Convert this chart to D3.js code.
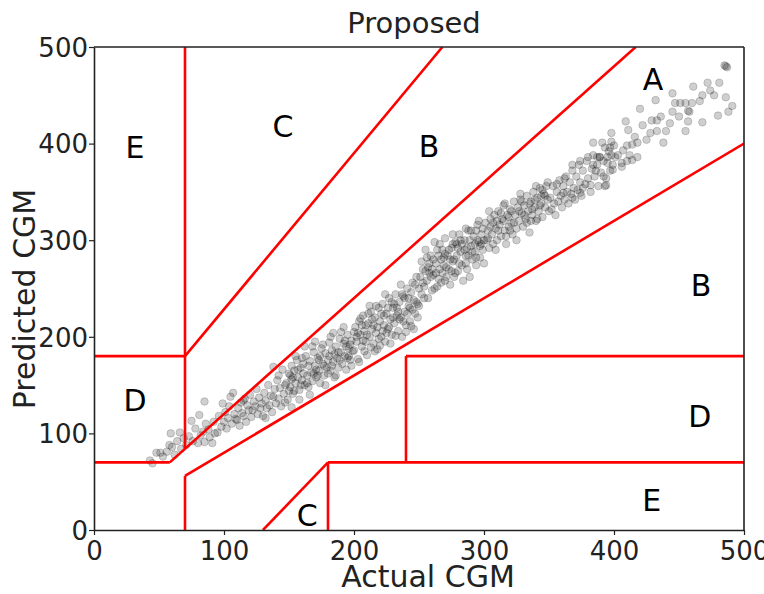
<!DOCTYPE html>
<html>
<head>
<meta charset="utf-8">
<script src="https://cdn.jsdelivr.net/npm/d3@7"></script>
<style>
  body { margin: 0; background: #fff; }
  text { font-family: 'DejaVu Sans', sans-serif; }
</style>
</head>
<body>
<div id="chart"></div>
<script>

const chartTitle = 'Proposed';
const xAxisTitle = 'Actual CGM';
const yAxisTitle = 'Predicted CGM';

const xTicks = [ 0, 100, 200, 300, 400, 500 ];
const yTicks = [ 0, 100, 200, 300, 400, 500 ];

// Clarke error grid zone boundaries, [actual, predicted]
const zoneLines = [
  [ [ 0, 70 ], [ 58.3, 70 ] ],
  [ [ 58.3, 70 ], [ 416.7, 500 ] ],
  [ [ 70, 84 ], [ 70, 500 ] ],
  [ [ 0, 180 ], [ 70, 180 ] ],
  [ [ 70, 180 ], [ 268, 500 ] ],
  [ [ 70, 0 ], [ 70, 56 ] ],
  [ [ 70, 56 ], [ 500, 400 ] ],
  [ [ 180, 0 ], [ 180, 70 ] ],
  [ [ 180, 70 ], [ 500, 70 ] ],
  [ [ 240, 70 ], [ 240, 180 ] ],
  [ [ 240, 180 ], [ 500, 180 ] ],
  [ [ 130, 0 ], [ 180, 70 ] ]
];

const zoneNames = [ 'E', 'C', 'B', 'A', 'B', 'D', 'D', 'E', 'C' ];
const zoneNameSpots = [ [ 31.5, 396.5 ], [ 145.4, 418 ], [ 257.7, 397.5 ], [ 430, 467 ], [ 467, 253.6 ],
  [ 31.5, 134.6 ], [ 466, 118 ], [ 429, 31 ], [ 164, 15.5 ] ];

// [actual, predicted]
const readings = [
  [43,72],[45,69],[48,80],[51,80],[53,76],[56,81],[58,88],[59,100],[60,86],[62,78],[64,92],[66,101],[67,84],[69,95],[71,88],[73,97],[75,113],[76,92],[78,105],[80,90],[81,119],[82,98],[84,102],[85,91],[85,133],[86,110],[88,104],[89,96],[91,90],[92,112],[93,100],[95,101],[96,118],[98,107],[99,131],
  [100,112],[101,122],[102,105],[103,116],[104,128],[105,138],[106,110],[107,142],[108,120],[109,115],[110,114],[111,126],[112,108],[113,132],[114,121],[115,118],[116,136],[117,112],[118,129],[119,124],[120,140],[121,117],[122,124],[123,133],[124,128],[125,146],[126,120],[127,137],[128,126],[129,131],[130,118],[131,142],[132,134],[133,126],[134,150],[135,129],[136,139],[137,122],[138,138],[139,146],[140,131],[141,155],[142,136],[143,147],[144,128],[145,166],[146,141],[147,150],[148,152],[149,135],[150,144],[151,160],[152,127],[153,158],[138,169],[115,134],[132,116],[147,132],[142,160],
  [150,162],[151,148],[152,170],[153,141],[154,165],[155,152],[156,176],[157,158],[158,145],[159,168],[160,155],[161,172],[162,150],[163,180],[164,160],[165,148],[166,175],[167,163],[168,154],[169,184],[170,170],[171,158],[172,178],[173,165],[174,152],[175,188],[176,172],[177,160],[178,183],[179,168],[180,176],[181,194],[182,165],[183,186],[184,174],[185,158],[186,190],[187,178],[188,168],[189,198],[190,184],[191,172],[192,193],[193,180],[194,166],[195,202],[196,188],[197,176],[198,196],[199,185],[200,205],[155,180],[158,135],[162,190],[166,140],[170,195],[174,180],[178,150],[182,200],[186,160],[190,205],[194,190],[198,170],[152,156],[157,166],[161,162],[165,170],[169,162],[173,176],[177,170],[181,180],[185,182],[189,176],[193,196],[197,192],[160,178],[168,190],[176,192],[184,204],[192,210],[164,152],[172,160],[180,162],[188,184],[196,180],[154,144],[159,150],[171,166],[183,170],[195,178],
  [200,186],[201,210],[202,195],[203,177],[204,216],[205,202],[206,190],[207,222],[208,206],[209,195],[210,181],[211,214],[212,200],[213,226],[214,208],[215,193],[216,220],[217,204],[218,187],[219,230],[220,216],[221,200],[222,234],[223,212],[224,195],[225,224],[226,208],[227,240],[228,218],[229,202],[230,230],[231,214],[232,244],[233,222],[234,206],[235,236],[236,220],[237,200],[238,242],[239,226],[240,212],[241,250],[242,232],[243,216],[244,246],[245,228],[246,208],[247,254],[248,236],[249,220],[250,250],[203,204],[207,196],[211,224],[215,212],[219,198],[223,222],[227,210],[231,234],[235,218],[239,240],[243,230],[247,224],[205,219],[209,212],[213,189],[217,232],[221,224],[225,204],[229,236],[233,230],[237,244],[241,224],[245,256],[249,234],[202,200],[206,212],[210,202],[214,218],[218,210],[222,206],[226,230],[230,220],[234,226],[238,216],[242,240],[246,238],[250,232],[212,232],[224,244],[236,254],[248,262],[204,174],[216,185],[228,193],[240,205],[208,185],[220,191],[232,201],[244,211],
  [251,262],[252,244],[253,270],[254,252],[255,290],[256,258],[257,240],[258,276],[259,262],[260,248],[261,280],[262,298],[263,266],[264,252],[265,284],[266,270],[267,256],[268,290],[269,274],[270,302],[271,262],[272,284],[273,270],[274,254],[275,292],[276,278],[277,262],[278,298],[279,284],[280,268],[281,306],[282,288],[283,274],[284,258],[285,300],[286,284],[287,270],[288,310],[289,262],[290,294],[291,280],[292,304],[293,288],[294,274],[295,316],[296,298],[297,282],[298,306],[299,290],[300,276],[253,256],[257,272],[261,264],[265,260],[269,282],[273,290],[277,280],[281,276],[285,290],[289,300],[293,296],[297,294],[255,268],[259,284],[263,276],[267,280],[271,272],[275,268],[279,296],[283,296],[287,292],[291,288],[295,300],[299,312],[252,278],[258,266],[264,290],[270,286],[276,296],[282,300],[288,284],[294,310],[300,300],[254,240],[262,250],[270,258],[278,266],[286,276],[294,282],[256,282],[266,296],[276,306],[286,312],[296,320],[260,270],[268,266],[274,280],[280,292],[290,310],[298,296],
  [301,318],[302,300],[303,310],[304,292],[305,322],[306,306],[307,296],[308,326],[309,312],[310,300],[311,330],[312,316],[313,304],[314,322],[315,336],[316,310],[317,296],[318,326],[319,314],[320,332],[321,318],[322,306],[323,340],[324,326],[325,312],[326,334],[327,320],[328,342],[329,328],[330,314],[331,336],[332,322],[333,346],[334,330],[335,308],[336,340],[337,326],[338,350],[339,334],[340,320],[341,344],[342,330],[343,354],[344,338],[345,324],[346,348],[347,334],[348,356],[349,342],[350,330],[303,302],[307,318],[311,310],[315,320],[319,324],[323,318],[327,330],[331,326],[335,338],[339,342],[343,336],[347,346],[305,314],[313,328],[321,330],[329,340],[337,332],[345,352],[309,290],[317,304],[325,300],[333,318],[341,322],[349,360],[304,330],[316,338],[328,348],[340,356],[310,320],[320,310],[336,320],[344,346],
  [351,344],[352,332],[353,356],[354,338],[355,326],[356,350],[357,340],[358,362],[359,346],[360,334],[361,356],[362,342],[363,366],[364,350],[365,338],[366,360],[367,348],[368,372],[369,354],[370,342],[371,366],[372,352],[373,378],[374,360],[375,346],[376,372],[378,358],[379,382],[380,364],[382,350],[383,374],[384,388],[385,366],[387,378],[388,356],[389,386],[390,370],[392,382],[393,396],[394,364],[395,380],[396,392],[397,372],[398,388],[399,378],[400,398],[356,358],[362,364],[368,344],[374,382],[380,386],[386,372],[392,366],[398,402],[384,378],[376,354],
  [486,480],[487,479],[485,481],[481,463],[472,463],[461,459],[445,452],[432,445],[420,436],[409,423],[398,411],[468,450],[477,450],[486,448],[491,439],[488,433],[480,429],[468,422],[457,434],[458,433],[451,442],[455,442],[460,442],[447,442],[445,433],[443,421],[455,413],[457,423],[440,413],[433,413],[428,411],[433,424],[429,424],[438,401],[422,419],[411,414],[416,407],[418,401],[414,399],[410,398],[384,401],[391,401],[389,386],[395,386],[401,386],[407,393],[412,388],[418,386],[410,382],[406,380],[368,378],[387,386],[393,356],[394,357],[361,349],[374,349],[382,357],[399,373],[406,376],[414,383],[403,388],[397,396],[425,404],[436,428],[450,428],[474,455],[466,444]
];

const figure_width = 764;
const figure_height = 594;

const plot_margin = { top: 47, right: 20, bottom: 64, left: 94 },
    plot_width = figure_width - plot_margin.left - plot_margin.right,
    plot_height = figure_height - plot_margin.top - plot_margin.bottom;

const svg = d3.select( 'div#chart' )
  .append( 'svg' )
    .attr( 'width', figure_width )
    .attr( 'height', figure_height )
    .append( 'g' )
      .attr( 'transform', 'translate( ' + plot_margin.left + ', ' + plot_margin.top + ' )' );

const x = d3.scaleLinear()
  .domain( [ 0, 500 ] )
  .range( [ 0, plot_width ] );

const y = d3.scaleLinear()
  .domain( [ 0, 500 ] )
  .range( [ plot_height, 0 ] );

svg.append( 'clipPath' )
    .attr( 'id', 'plot-clip' )
  .append( 'rect' )
    .attr( 'width', plot_width )
    .attr( 'height', plot_height );

// Scatter of readings
svg.append( 'g' )
    .attr( 'clip-path', 'url(#plot-clip)' )
  .selectAll( 'circle' )
  .data( readings )
  .enter()
  .append( 'circle' )
    .attr( 'cx', function( d ) { return x( d[0] ); } )
    .attr( 'cy', function( d ) { return y( d[1] ); } )
    .attr( 'r', 3.8 )
    .style( 'fill', '#000' )
    .style( 'fill-opacity', 0.19 )
    .style( 'stroke', '#000' )
    .style( 'stroke-opacity', 0.17 )
    .style( 'stroke-width', 1 );

// Zone boundaries
svg.append( 'g' )
    .attr( 'clip-path', 'url(#plot-clip)' )
  .selectAll( 'line' )
  .data( zoneLines )
  .enter()
  .append( 'line' )
    .attr( 'x1', function( d ) { return x( d[0][0] ); } )
    .attr( 'y1', function( d ) { return y( d[0][1] ); } )
    .attr( 'x2', function( d ) { return x( d[1][0] ); } )
    .attr( 'y2', function( d ) { return y( d[1][1] ); } )
    .style( 'stroke', '#ff0000' )
    .style( 'stroke-width', 2.6 );

// Zone letters
svg.append( 'g' )
  .selectAll( 'text' )
  .data( zoneNames )
  .enter()
  .append( 'text' )
    .attr( 'x', function( d, i ) { return x( zoneNameSpots[i][0] ); } )
    .attr( 'y', function( d, i ) { return y( zoneNameSpots[i][1] ) + 11; } )
    .attr( 'text-anchor', 'middle' )
    .style( 'font-size', '30px' )
    .style( 'fill', '#000' )
    .text( function( d ) { return d; } );

// Axes
const xAxis = svg.append( 'g' )
  .attr( 'transform', 'translate( 0, ' + plot_height + ' )' )
  .call( d3.axisBottom( x ).tickValues( xTicks ).tickSize( 5 ).tickPadding( 7 ).tickSizeOuter( 0 ) );

const yAxis = svg.append( 'g' )
  .call( d3.axisLeft( y ).tickValues( yTicks ).tickSize( 5 ).tickPadding( 1 ).tickSizeOuter( 0 ) );

[ xAxis, yAxis ].forEach( function( a ) {
  a.selectAll( 'text' )
    .style( 'font-family', "'DejaVu Sans', sans-serif" )
    .style( 'font-size', '26px' )
    .style( 'fill', '#222' );
  a.selectAll( 'line' ).style( 'stroke', '#222' ).style( 'stroke-width', 1.2 );
  a.select( '.domain' ).style( 'stroke', '#222' ).style( 'stroke-width', 1.6 );
});
yAxis.selectAll( 'text' ).attr( 'dy', '0.36em' );

// Top and right spines
svg.append( 'line' )
  .attr( 'x1', 0 ).attr( 'y1', 0 ).attr( 'x2', plot_width ).attr( 'y2', 0 )
  .style( 'stroke', '#222' ).style( 'stroke-width', 1.6 );
svg.append( 'line' )
  .attr( 'x1', plot_width ).attr( 'y1', 0 ).attr( 'x2', plot_width ).attr( 'y2', plot_height )
  .style( 'stroke', '#222' ).style( 'stroke-width', 1.6 );

// Titles
svg.append( 'text' )
  .attr( 'x', 320 )
  .attr( 'y', -14 )
  .attr( 'text-anchor', 'middle' )
  .style( 'font-size', '29px' )
  .style( 'fill', '#222' )
  .text( chartTitle );

svg.append( 'text' )
  .attr( 'x', plot_width / 2 + 9 )
  .attr( 'y', plot_height + 57 )
  .attr( 'text-anchor', 'middle' )
  .style( 'font-size', '30px' )
  .style( 'fill', '#222' )
  .text( xAxisTitle );

svg.append( 'text' )
  .attr( 'transform', 'translate( ' + ( -59 ) + ', ' + ( 252 ) + ' ) rotate( -90 )' )
  .attr( 'text-anchor', 'middle' )
  .style( 'font-size', '30px' )
  .style( 'fill', '#222' )
  .text( yAxisTitle );

</script>
</body>
</html>
